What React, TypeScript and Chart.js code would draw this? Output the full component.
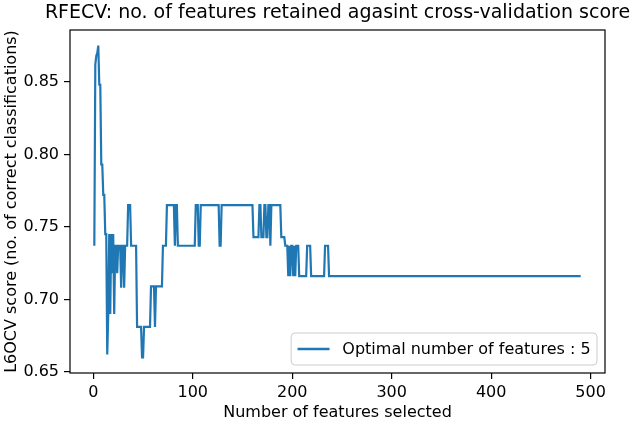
import React, { useEffect, useRef } from "react";
import { Chart, registerables } from "chart.js";

Chart.register(...registerables);

// Runs of equal score: [segStart .. segEnd] -> segScore
const segStart = [1, 2, 3, 4, 5, 6, 8, 10, 12, 14, 15, 16, 17, 18, 19, 20, 21, 22, 24, 25, 28, 29, 31, 32, 35, 38, 44, 49, 51, 58, 62, 63, 70, 74, 82, 83, 85, 103, 106, 108, 127, 129, 161, 167, 169, 172, 174, 176, 178, 179, 189, 193, 196, 197, 198, 199, 201, 202, 203, 204, 207, 215, 219, 233, 237];
const segEnd = [1, 2, 3, 4, 5, 7, 9, 11, 13, 14, 15, 16, 17, 18, 19, 20, 21, 23, 24, 27, 28, 30, 31, 34, 37, 43, 48, 50, 57, 61, 62, 69, 73, 81, 82, 84, 102, 105, 107, 126, 128, 160, 166, 168, 171, 173, 175, 177, 178, 188, 192, 195, 196, 197, 198, 200, 201, 202, 203, 206, 214, 218, 232, 236, 490];
const segScore = [0.737, 0.862, 0.868, 0.870, 0.875, 0.848, 0.793, 0.772, 0.745, 0.662, 0.690, 0.745, 0.690, 0.745, 0.718, 0.745, 0.690, 0.737, 0.718, 0.737, 0.708, 0.737, 0.708, 0.737, 0.765, 0.737, 0.681, 0.660, 0.681, 0.709, 0.681, 0.709, 0.737, 0.765, 0.737, 0.765, 0.737, 0.765, 0.737, 0.765, 0.737, 0.765, 0.743, 0.765, 0.743, 0.765, 0.743, 0.765, 0.737, 0.765, 0.743, 0.737, 0.716, 0.737, 0.716, 0.737, 0.716, 0.737, 0.716, 0.737, 0.716, 0.737, 0.716, 0.737, 0.716];

const xTicks = [0, 100, 200, 300, 400, 500];
const yTicks = [0.65, 0.7, 0.75, 0.8, 0.85];

const titleText = "RFECV: no. of features retained agasint cross-validation score";
const xLabel = "Number of features selected";
const yLabel = "L6OCV score (no. of correct classifications)";
const legendLabel = "Optimal number of features : 5";

const FONT = '"DejaVu Sans", "Liberation Sans", sans-serif';
const LINE_COLOR = "#1f77b4";

function buildPoints() {
  const pts: { x: number; y: number }[] = [];
  for (let i = 0; i < segStart.length; i++) {
    pts.push({ x: segStart[i], y: segScore[i] });
    if (segEnd[i] !== segStart[i]) pts.push({ x: segEnd[i], y: segScore[i] });
  }
  return pts;
}

const framePlugin = {
  id: "frameLegendTitle",
  afterDatasetsDraw(chart: any) {
    const { ctx, chartArea } = chart;
    const { left, right, top, bottom } = chartArea;
    ctx.save();
    // frame (all four spines)
    ctx.strokeStyle = "#000";
    ctx.lineWidth = 1.2;
    ctx.strokeRect(left, top, right - left, bottom - top);

    // title centred over the axes, not squeezed
    ctx.font = `19px ${FONT}`;
    ctx.fillStyle = "#000";
    ctx.textAlign = "center";
    ctx.textBaseline = "middle";
    ctx.fillText(titleText, (left + right) / 2, top - 17);

    // legend, lower right inside axes
    const fs = 16;
    const label = chart.data.datasets[0].label;
    ctx.font = `${fs}px ${FONT}`;
    const tw = ctx.measureText(label).width;
    const pad = 0.4 * fs;
    const handle = 2 * fs;
    const gap = 0.8 * fs;
    const axPad = 0.5 * fs;
    const w = pad + handle + gap + tw + pad;
    const h = 2 * pad + fs * 1.2;
    const x = right - axPad - w;
    const y = bottom - axPad - h;
    const r = 4;
    ctx.beginPath();
    ctx.moveTo(x + r, y);
    ctx.lineTo(x + w - r, y);
    ctx.arcTo(x + w, y, x + w, y + r, r);
    ctx.lineTo(x + w, y + h - r);
    ctx.arcTo(x + w, y + h, x + w - r, y + h, r);
    ctx.lineTo(x + r, y + h);
    ctx.arcTo(x, y + h, x, y + h - r, r);
    ctx.lineTo(x, y + r);
    ctx.arcTo(x, y, x + r, y, r);
    ctx.closePath();
    ctx.fillStyle = "rgba(255,255,255,0.8)";
    ctx.fill();
    ctx.strokeStyle = "#cccccc";
    ctx.lineWidth = 1;
    ctx.stroke();

    const cy = y + h / 2;
    ctx.beginPath();
    ctx.moveTo(x + pad, cy);
    ctx.lineTo(x + pad + handle, cy);
    ctx.strokeStyle = LINE_COLOR;
    ctx.lineWidth = 2.4;
    ctx.stroke();

    ctx.fillStyle = "#000";
    ctx.textAlign = "left";
    ctx.textBaseline = "middle";
    ctx.fillText(label, x + pad + handle + gap, cy + 1);
    ctx.restore();
  },
};

export default function App() {
  const canvasRef = useRef<HTMLCanvasElement | null>(null);

  useEffect(() => {
    if (!canvasRef.current) return;
    Chart.defaults.font.family = FONT;
    const points = buildPoints();
    const yMin = 0.66 - 0.01075;
    const yMax = 0.875 + 0.01075;
    const xMin = 1 - 24.45;
    const xMax = 490 + 24.45;

    const chart = new Chart(canvasRef.current, {
      type: "line",
      data: {
        datasets: [
          {
            label: legendLabel,
            data: points,
            borderColor: LINE_COLOR,
            backgroundColor: LINE_COLOR,
            borderWidth: 2.2,
            pointRadius: 0,
            tension: 0,
            fill: false,
          },
        ],
      },
      options: {
        animation: false,
        responsive: false,
        devicePixelRatio: 1,
        layout: { padding: { left: 0, right: 33, top: 30, bottom: 0 } },
        plugins: {
          legend: { display: false },
          tooltip: { enabled: false },
          title: { display: false },
        },
        scales: {
          x: {
            type: "linear",
            min: xMin,
            max: xMax,
            afterFit: (s: any) => {
              s.height = 51;
            },
            afterBuildTicks: (s: any) => {
              s.ticks = xTicks.map((v) => ({ value: v }));
            },
            ticks: {
              color: "#000",
              font: { size: 16, family: FONT },
              padding: 4,
              maxRotation: 0,
              autoSkip: false,
              callback: (v: any) => String(v),
            },
            grid: {
              drawOnChartArea: false,
              drawTicks: true,
              tickLength: 6,
              color: "#000",
              lineWidth: 1.2,
            },
            border: { display: false },
            title: {
              display: true,
              text: xLabel,
              color: "#000",
              font: { size: 16, family: FONT },
              padding: { top: 0, bottom: 2 },
            },
          },
          y: {
            type: "linear",
            min: yMin,
            max: yMax,
            afterFit: (s: any) => {
              s.width = 70;
            },
            afterBuildTicks: (s: any) => {
              s.ticks = yTicks.map((v) => ({ value: v }));
            },
            ticks: {
              color: "#000",
              font: { size: 16, family: FONT },
              padding: 5,
              autoSkip: false,
              callback: (v: any) => Number(v).toFixed(2),
            },
            grid: {
              drawOnChartArea: false,
              drawTicks: true,
              tickLength: 6,
              color: "#000",
              lineWidth: 1.2,
            },
            border: { display: false },
            title: {
              display: true,
              text: yLabel,
              color: "#000",
              font: { size: 16, family: FONT },
              padding: { top: 2, bottom: 0 },
            },
          },
        },
      },
      plugins: [framePlugin],
    });
    return () => chart.destroy();
  }, []);

  return (
    <div style={{ position: "absolute", left: 0, top: 0, width: 638, height: 424, background: "#fff" }}>
      <canvas ref={canvasRef} width={638} height={424} />
    </div>
  );
}
